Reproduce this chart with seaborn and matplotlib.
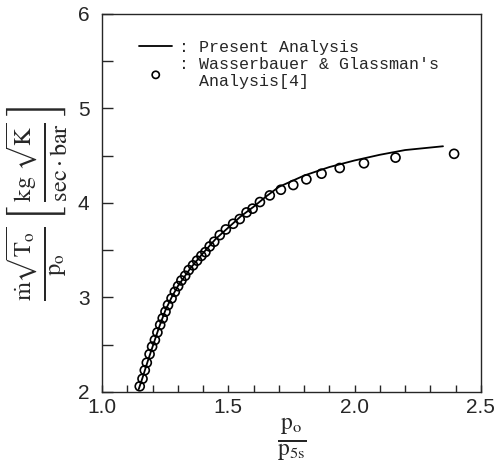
import matplotlib
matplotlib.use("Agg")
import matplotlib.pyplot as plt
import seaborn as sns
import pandas as pd

# Present analysis (solid line)
line_x = [1.145, 1.16, 1.18, 1.20, 1.225, 1.25, 1.275, 1.30, 1.35, 1.40, 1.45, 1.50, 1.55, 1.60, 1.65, 1.70, 1.80, 1.90, 2.00, 2.10, 2.20, 2.35]
line_y = [2.03, 2.15, 2.32, 2.48, 2.68, 2.86, 3.00, 3.12, 3.31, 3.47, 3.62, 3.74, 3.86, 3.96, 4.07, 4.17, 4.29, 4.38, 4.45, 4.51, 4.56, 4.60]

# Wasserbauer & Glassman's analysis (circles)
pts_x = [1.149, 1.160, 1.169, 1.177, 1.188, 1.198, 1.209, 1.219, 1.230, 1.240,
         1.251, 1.261, 1.275, 1.288, 1.301, 1.314, 1.329, 1.343, 1.360, 1.376,
         1.393, 1.409, 1.426, 1.444, 1.466, 1.490, 1.519, 1.545, 1.572, 1.596,
         1.625, 1.664, 1.708, 1.757, 1.809, 1.869, 1.941, 2.037, 2.162, 2.394]
pts_y = [2.06, 2.14, 2.23, 2.31, 2.40, 2.48, 2.55, 2.63, 2.71, 2.78,
         2.85, 2.92, 2.99, 3.06, 3.12, 3.18, 3.23, 3.29, 3.34, 3.39,
         3.44, 3.48, 3.54, 3.59, 3.66, 3.72, 3.78, 3.83, 3.90, 3.94,
         4.01, 4.08, 4.14, 4.19, 4.25, 4.31, 4.37, 4.42, 4.48, 4.52]

x_ticks = [1.0, 1.5, 2.0, 2.5]
x_ticklabels = ["1.0", "1.5", "2.0", "2.5"]
y_ticks = [2, 3, 4, 5, 6]
y_ticklabels = ["2", "3", "4", "5", "6"]

sns.set_style("ticks")
plt.rcParams["mathtext.fontset"] = "stix"
plt.rcParams["font.family"] = ["DejaVu Sans"]

fig = plt.figure(figsize=(5.03, 4.65), dpi=100)
ax = fig.add_axes([0.203, 0.157, 0.753, 0.813])

df_line = pd.DataFrame({"x": line_x, "y": line_y})
df_pts = pd.DataFrame({"x": pts_x, "y": pts_y})

sns.lineplot(data=df_line, x="x", y="y", ax=ax, color="black", lw=1.3,
             sort=False, estimator=None, label=": Present Analysis")
sns.scatterplot(data=df_pts, x="x", y="y", ax=ax, marker="o", s=42,
                facecolor="none", edgecolor="black", linewidth=1.2,
                label=": Wasserbauer & Glassman's\n  Analysis[4]")

ax.set_xlim(1.0, 2.5)
ax.set_ylim(2, 6)
ax.set_xticks(x_ticks)
ax.set_xticklabels(x_ticklabels, fontsize=15, fontfamily="Liberation Sans")
ax.set_xticks([1.1, 1.2, 1.3, 1.4, 1.6, 1.7, 1.8, 1.9, 2.1, 2.2, 2.3, 2.4], minor=True)
ax.set_yticks(y_ticks)
ax.set_yticklabels(y_ticklabels, fontsize=15, fontfamily="Liberation Sans")
ax.set_yticks([2.5, 3.5, 4.5, 5.5], minor=True)
ax.tick_params(axis="x", which="both", direction="in", length=5, width=1, pad=4)
ax.tick_params(axis="y", which="both", direction="in", length=8, width=1, pad=9)
for sp in ax.spines.values():
    sp.set_linewidth(1.0)
    sp.set_visible(True)

ax.set_xlabel(r"$\frac{\mathrm{p_o}}{\mathrm{p_{5s}}}$", fontsize=24, labelpad=0)
ax.set_ylabel(r"$\frac{\dot{\mathrm{m}}\sqrt{\mathrm{T_o}}}{\mathrm{p_o}}\,\left[\,\frac{\mathrm{kg}\ \sqrt{\mathrm{K}}}{\mathrm{sec\cdot bar}}\,\right]$",
              fontsize=25, labelpad=6)

leg = ax.legend(loc="upper left", bbox_to_anchor=(0.08, 0.95), frameon=False,
                prop={"family": "Liberation Mono", "size": 12},
                handlelength=2.0, handletextpad=0.4, labelspacing=0.15,
                borderaxespad=0, markerscale=0.8)

fig.savefig("out.png", dpi=100)
